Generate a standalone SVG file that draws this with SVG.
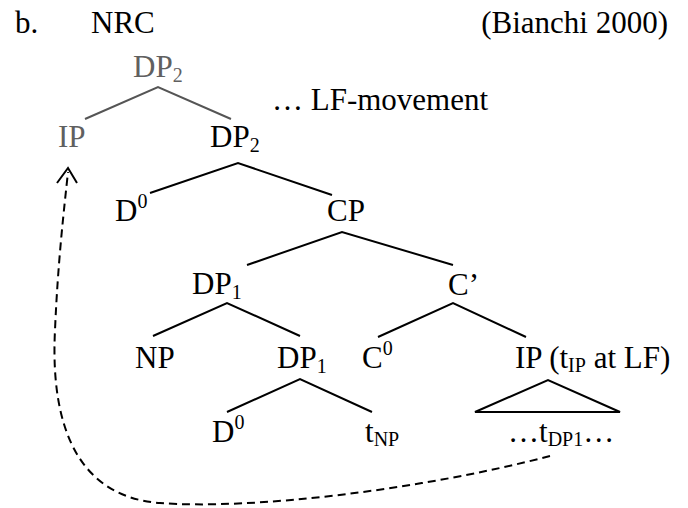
<svg xmlns="http://www.w3.org/2000/svg" width="688" height="508" viewBox="0 0 688 508">
<style>
text{font-family:"Liberation Serif","Times New Roman",serif;font-size:31px;fill:#000}
.g{fill:#606060}
.sub{font-size:20px}
.e{stroke:#000;stroke-width:2;fill:none}
.eg{stroke:#555;stroke-width:2;fill:none}
.mv{stroke:#000;stroke-width:2;fill:none;stroke-dasharray:8 5}
</style>
<rect width="688" height="508" fill="#fff"/>
<g id="labels">
<text x="15" y="33">b.</text>
<text x="91" y="33">NRC</text>
<text x="668" y="33" text-anchor="end">(Bianchi 2000)</text>
<text x="272" y="110">… LF-movement</text>
</g>
<g id="n-dp2-top"><text class="g" x="133" y="77">DP<tspan class="sub" dy="5">2</tspan></text></g>
<g id="n-ip-top"><text class="g" x="58" y="147">IP</text></g>
<g id="n-dp2"><text x="210" y="147">DP<tspan class="sub" dy="5">2</tspan></text></g>
<g id="n-d0-a"><text x="115" y="221">D<tspan class="sub" dy="-13">0</tspan></text></g>
<g id="n-cp"><text x="327" y="221">CP</text></g>
<g id="n-dp1"><text x="192" y="294">DP<tspan class="sub" dy="5">1</tspan></text></g>
<g id="n-cbar"><text x="448" y="295">C’</text></g>
<g id="n-np"><text x="135" y="368">NP</text></g>
<g id="n-dp1b"><text x="277" y="368">DP<tspan class="sub" dy="5">1</tspan></text></g>
<g id="n-c0"><text x="362" y="368">C<tspan class="sub" dy="-13">0</tspan></text></g>
<g id="n-ip"><text x="515" y="368">IP (t<tspan class="sub" dy="4">IP</tspan><tspan dy="-4"> at LF)</tspan></text></g>
<g id="n-d0-b"><text x="212" y="442">D<tspan class="sub" dy="-13">0</tspan></text></g>
<g id="n-tnp"><text x="365" y="442">t<tspan class="sub" dy="4">NP</tspan></text></g>
<g id="n-tdp1"><text x="508" y="442">…t<tspan class="sub" dy="4">DP1</tspan><tspan dy="-4">…</tspan></text></g>
<g id="connectors">
<polyline class="eg" points="85,119 158,87 231,119"/>
<polyline class="e" points="150,193 238,163 332,195"/>
<polyline class="e" points="247,265 342,232 453,265"/>
<polyline class="e" points="153,336 227,303 300,336"/>
<polyline class="e" points="378,337 453,303 526,337"/>
<polyline class="e" points="227,412 300,379 372,412"/>
<polygon class="e" points="475,412 548,380 620,412"/>
<path class="mv" d="M550,456 C420,490 250,510 160,503 C80,497 50,430 55,330 C58,260 64,210 68,172"/>
<polyline class="e" points="57,183 68,168 77,183"/>
</g>
</svg>
